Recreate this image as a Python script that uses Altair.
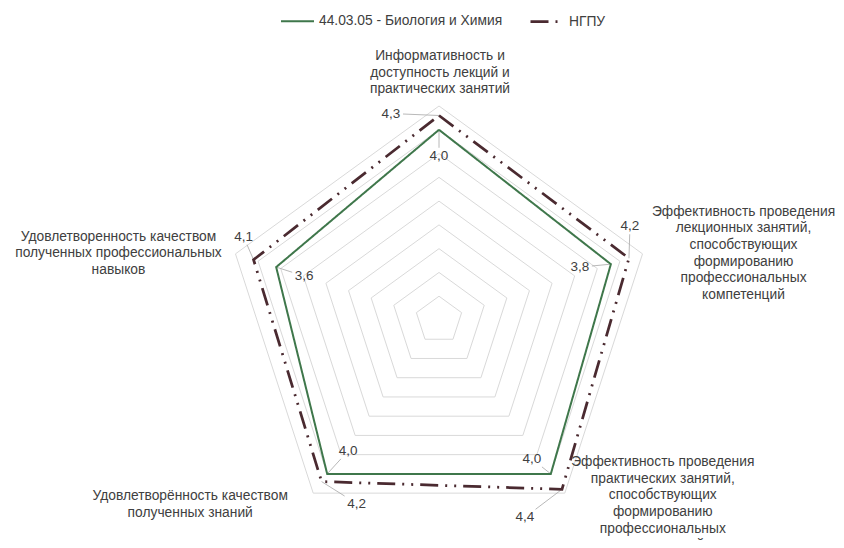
import pandas as pd
import altair as alt

# ---------------- data ----------------
categories = [
    "Информативность и\nдоступность лекций и\nпрактических занятий",
    "Эффективность проведения\nлекционных занятий,\nспособствующих\nформированию\nпрофессиональных\nкомпетенций",
    "Эффективность проведения\nпрактических занятий,\nспособствующих\nформированию\nпрофессиональных\nкомпетенций",
    "Удовлетворённость качеством\nполученных знаний",
    "Удовлетворенность качеством\nполученных профессиональных\nнавыков",
]
series_names = ["44.03.05 - Биология и Химия", "НГПУ"]
bio_values = [4.0, 3.8, 4.0, 4.0, 3.6]
ngpu_values = [4.3, 4.2, 4.4, 4.2, 4.1]
grid_levels = [0.5, 1.0, 1.5, 2.0, 2.5, 3.0, 3.5, 4.0, 4.5]
r_max = 4.5

# ---------------- layout (pixels) ----------------
W, H = 828, 532
CX, CY = 431, 312          # radar centre inside plot area
R_PX = 214                 # pixel radius of r_max
K = R_PX / r_max           # pixels per unit
N = len(categories)

# label offsets in px (dx right, dy down) relative to data point / outer vertex
bio_label_off = [(0, 26), (-31, 3), (-19, -15), (21, -23), (28, 9)]
ngpu_label_off = [(-48, -2), (1, -32), (-37, 28), (35, 22), (-10, -23)]
# first-line centre of each category label relative to its outer vertex
cat_label_off = [(1, -50), (101, -42), (98, -31), (-123, 3), (-117, -17)]

colors = ["#3f774b", "#4a2a30"]
dashes = [[1, 0], [18, 7, 2, 7, 2, 7]]
FONT = "Liberation Sans"
TXT = "#404040"

# ---------------- tables ----------------
grid_df = pd.DataFrame(
    [{"ring": lv, "idx": j, "r": lv} for lv in grid_levels for j in range(N + 1)]
)

series_vals = {series_names[0]: bio_values, series_names[1]: ngpu_values}
line_df = pd.DataFrame(
    [{"series": s, "idx": j, "r": series_vals[s][j % N]}
     for s in series_names for j in range(N + 1)]
)

lab_rows = []
for s, offs in zip(series_names, [bio_label_off, ngpu_label_off]):
    for j in range(N):
        v = series_vals[s][j]
        lab_rows.append({"series": s, "idx": j, "r": v,
                         "text": f"{v:.1f}".replace(".", ","),
                         "dxp": offs[j][0], "dyp": offs[j][1]})
lab_df = pd.DataFrame(lab_rows)

cat_df = pd.DataFrame(
    [{"idx": j, "r": r_max, "cat": categories[j],
      "dxp": cat_label_off[j][0], "dyp": cat_label_off[j][1]} for j in range(N)]
)

# ---------------- encodings ----------------
xs = alt.Scale(domain=[-CX / K, (W - CX) / K], nice=False, zero=False)
ys = alt.Scale(domain=[-(H - CY) / K, CY / K], nice=False, zero=False)


def polar(ch):
    return ch.transform_calculate(
        theta=f"datum.idx * 2 * PI / {N}"
    ).transform_calculate(
        x="datum.r * sin(datum.theta)",
        y="datum.r * cos(datum.theta)",
    )


X = alt.X("x:Q", scale=xs, axis=None)
Y = alt.Y("y:Q", scale=ys, axis=None)

grid = polar(alt.Chart(grid_df)).mark_line(
    color="#d9d9d9", strokeWidth=1
).encode(x=X, y=Y, detail="ring:N", order="idx:Q")

legend = alt.Legend(
    title=None, orient="none", legendX=272, legendY=-4.5, direction="horizontal",
    symbolType="stroke", symbolSize=1089, symbolStrokeWidth=2.5,
    labelFont=FONT, labelFontSize=13.8, labelColor=TXT, labelOffset=4,
    labelLimit=400, columnPadding=22, padding=0,
)

lines = polar(alt.Chart(line_df)).mark_line(strokeCap="butt").encode(
    x=X, y=Y,
    color=alt.Color("series:N", scale=alt.Scale(domain=series_names, range=colors),
                    legend=legend),
    strokeDash=alt.StrokeDash("series:N",
                              scale=alt.Scale(domain=series_names, range=dashes),
                              legend=legend),
    strokeWidth=alt.StrokeWidth("series:N",
                                scale=alt.Scale(domain=series_names, range=[2, 2.75]),
                                legend=None),
    detail="series:N",
    order="idx:Q",
)

lab_base = polar(alt.Chart(lab_df)).transform_calculate(
    lx=f"datum.x + datum.dxp / {K}",
    ly=f"datum.y - datum.dyp / {K}",
    t="min(abs(datum.dxp) > 0 ? 12 / abs(datum.dxp) : 99, abs(datum.dyp) > 0 ? 8 / abs(datum.dyp) : 99)",
).transform_calculate(
    ex=f"datum.x + (1 - datum.t) * datum.dxp / {K}",
    ey=f"datum.y - (1 - datum.t) * datum.dyp / {K}",
)

leaders = lab_base.mark_rule(color="#a6a6a6", strokeWidth=0.8).encode(
    x=X, y=Y, x2="ex:Q", y2="ey:Q"
)

value_labels = lab_base.mark_text(
    font=FONT, fontSize=13.5, color=TXT, align="center", baseline="middle"
).encode(
    x=alt.X("lx:Q", scale=xs, axis=None),
    y=alt.Y("ly:Q", scale=ys, axis=None),
    text="text:N",
)

cat_labels = polar(alt.Chart(cat_df)).transform_calculate(
    lx=f"datum.x + datum.dxp / {K}",
    ly=f"datum.y - datum.dyp / {K}",
).mark_text(
    font=FONT, fontSize=13.8, color=TXT, align="center", baseline="middle",
    lineBreak="\n", lineHeight=16.6,
).encode(
    x=alt.X("lx:Q", scale=xs, axis=None),
    y=alt.Y("ly:Q", scale=ys, axis=None),
    text="cat:N",
)

chart = alt.layer(grid, leaders, lines, value_labels, cat_labels).properties(
    width=W, height=H, padding=0, autosize=alt.AutoSizeParams(type="none"),
    background="white",
).configure_view(stroke=None)

chart.save("out.html", embed_options={"renderer": "svg", "actions": False})
